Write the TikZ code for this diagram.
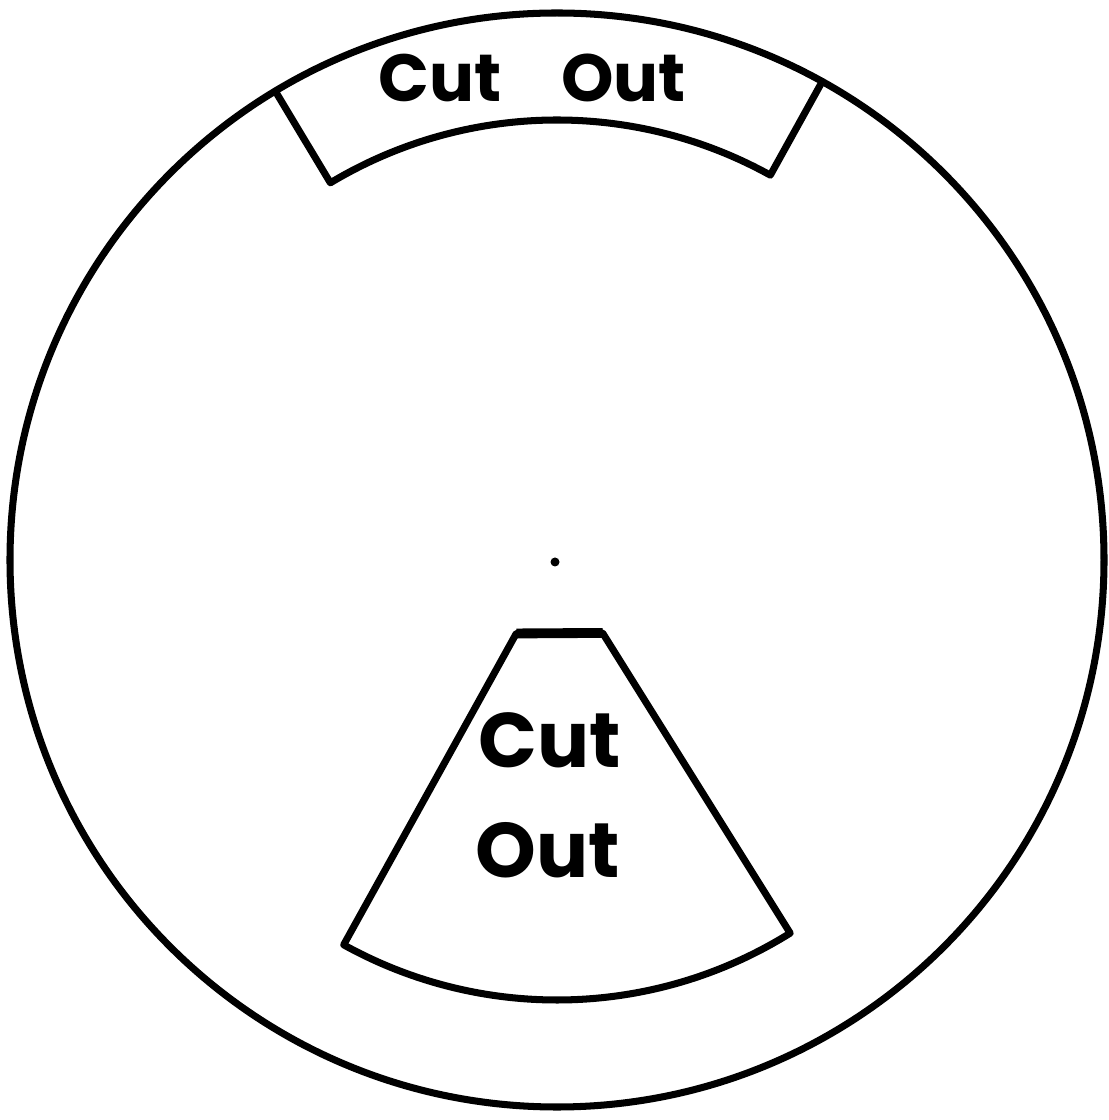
\documentclass[tikz,border=0pt]{standalone}
\usepackage{fontspec}
\newfontfamily\handfont{Poppins}
\usetikzlibrary{calc}
\definecolor{ink}{HTML}{000000}

\begin{document}
\begin{tikzpicture}[
    outline/.style={draw=ink, line width=2pt, line join=round, line cap=round},
    cuttext/.style={font=\handfont\bfseries\fontsize{19}{22}\selectfont, ink},
    bigtext/.style={font=\handfont\bfseries\fontsize{22}{26}\selectfont, ink}]
  \useasboundingbox (0,0) rectangle (11.08,11.20);

  % ── DISC ───────────────────────────────────
  \coordinate (c) at (5.57,5.60);
  \draw[outline] (c) circle (5.47);
  \fill[ink] (5.55,5.58) circle (0.045);

  % ── TOP CUT-OUT ────────────────────────────
  \draw[outline] ($(c)+(121:5.47)$) -- ($(c)+(121:4.40)$)
    arc[start angle=121, end angle=61, radius=4.40]
    -- ($(c)+(61:5.47)$);
  \node[cuttext] (topcut) at (5.32,10.42) {Cut\hspace{0.9em}Out};

  % ── BOTTOM CUT-OUT ─────────────────────────
  \draw[outline] ($(c)+(241:0.84)$) -- ($(c)+(241:4.40)$)
    arc[start angle=241, end angle=302, radius=4.40]
    -- ($(c)+(302:0.86)$) -- cycle;
  \draw[ink, line width=2.8pt] ($(c)+(241:0.84)$) -- ($(c)+(302:0.86)$);
  \node[bigtext] (lowcut) at (5.50,3.80) {Cut};
  \node[bigtext] (lowout) at (5.48,2.70) {Out};
\end{tikzpicture}
\end{document}
